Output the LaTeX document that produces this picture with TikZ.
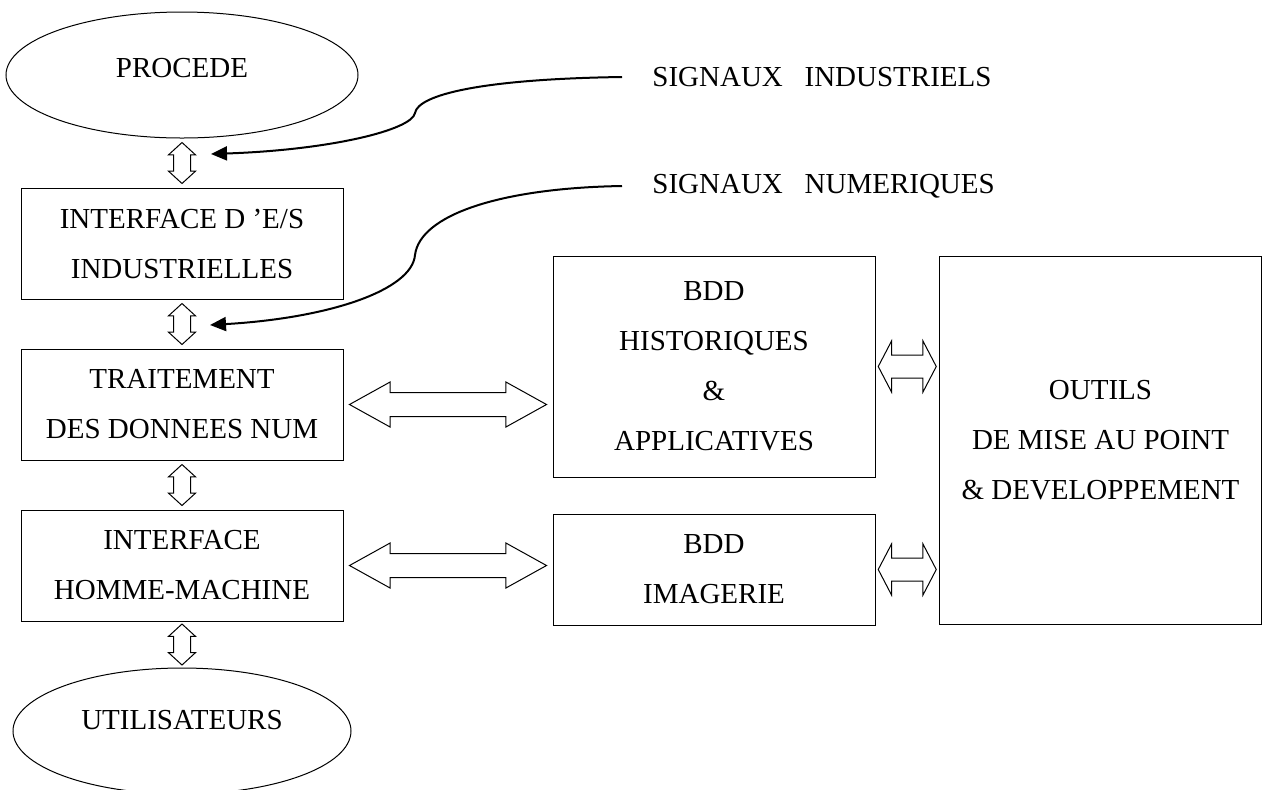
\documentclass[tikz,border=0pt]{standalone}
\usepackage{fontspec}
\setmainfont{Liberation Serif}
\usepackage{tikz}
\usetikzlibrary{shapes.geometric, shapes.arrows, arrows.meta, positioning, calc}

\begin{document}
\begin{tikzpicture}[x=0.5pt, y=-0.5pt,
        box/.style={draw, line width=0.5pt, minimum width=161pt, minimum height=55.5pt, align=center, inner sep=0pt, font=\fontsize{14.5pt}{25pt}\selectfont},
        oval/.style={draw, ellipse, line width=0.5pt, minimum width=176pt, minimum height=63pt, inner sep=0pt, text depth=7.5pt, font=\fontsize{14.5pt}{25pt}\selectfont},
        vlink/.style={draw, double arrow, rotate=90, line width=0.5pt, inner xsep=0pt, inner ysep=4pt, double arrow head extend=2.5pt, double arrow tip angle=95, minimum height=20.5pt},
        hlink/.style={draw, double arrow, line width=0.5pt, inner xsep=0pt, inner ysep=5.75pt, double arrow head extend=5.25pt, double arrow tip angle=58, minimum height=98.5pt},
        slink/.style={draw, double arrow, line width=0.5pt, inner xsep=0pt, inner ysep=5.5pt, double arrow head extend=7pt, double arrow tip angle=125, minimum height=29pt},
        sig/.style={-{Triangle[length=8pt, width=7pt]}, line width=1pt},
        sigtxt/.style={anchor=west, inner xsep=15pt, font=\fontsize{14.5pt}{25pt}\selectfont}
    ]
        \useasboundingbox (0,0) rectangle (1263,789);

        % left column
        \node (procede) [oval] at (182,75) {PROCEDE};
        \node (io) [box, below=24.5pt of procede] {INTERFACE D 'E/S\\INDUSTRIELLES};
        \node (trait) [box, below=24.5pt of io] {TRAITEMENT\\DES DONNEES NUM};
        \node (ihm) [box, below=24.5pt of trait] {INTERFACE\\HOMME-MACHINE};
        \node (users) [oval, minimum width=169pt, text depth=11.6pt, below=23pt of ihm] {UTILISATEURS};

        % bases de donnees + outils
        \node (bddi) [box, right=104.5pt of ihm, yshift=-2pt] {BDD\\IMAGERIE};
        \node (bddh) [box, minimum height=110.5pt, above=18pt of bddi] {BDD\\HISTORIQUES\\\&\\APPLICATIVES};
        \node (outils) [box, minimum height=184pt] at ($(bddh.north east)!.5!(bddi.south east)+(225,0)$) {OUTILS\\DE MISE AU POINT\\\& DEVELOPPEMENT};

        % signaux
        \node (sind) [sigtxt] at (622,77) {SIGNAUX~~~INDUSTRIELS};
        \node (snum) [sigtxt] at (622,186) {SIGNAUX~~~NUMERIQUES};
        \coordinate (tind) at (211,154);
        \coordinate (tnum) at (210,325);

        % liaisons
        \node (a1) [vlink] at ($(procede.south)!.5!(io.north)$) {};
        \node (a2) [vlink] at ($(io.south)!.5!(trait.north)$) {};
        \node (a3) [vlink] at ($(trait.south)!.5!(ihm.north)$) {};
        \node (a4) [vlink] at ($(ihm.south)!.5!(users.north)$) {};
        \node (h1) [hlink] at ($(trait.east)!.5!(trait.east -| bddh.west)$) {};
        \node (h2) [hlink] at ($(ihm.east)!.5!(ihm.east -| bddi.west)$) {};
        \node (r1) [slink] at ($(bddh.east)!.5!(bddh.east -| outils.west)$) {};
        \node (r2) [slink] at ($(bddi.east)!.5!(bddi.east -| outils.west)$) {};

        \draw [sig] (sind.west) .. controls (480,79) and (418,95) .. (415,113) .. controls (412,130) and (330,150) .. (tind);
        \draw [sig] (snum.west) .. controls (500,188) and (420,215) .. (415,255) .. controls (412,290) and (330,318) .. (tnum);
    \end{tikzpicture}
\end{document}
